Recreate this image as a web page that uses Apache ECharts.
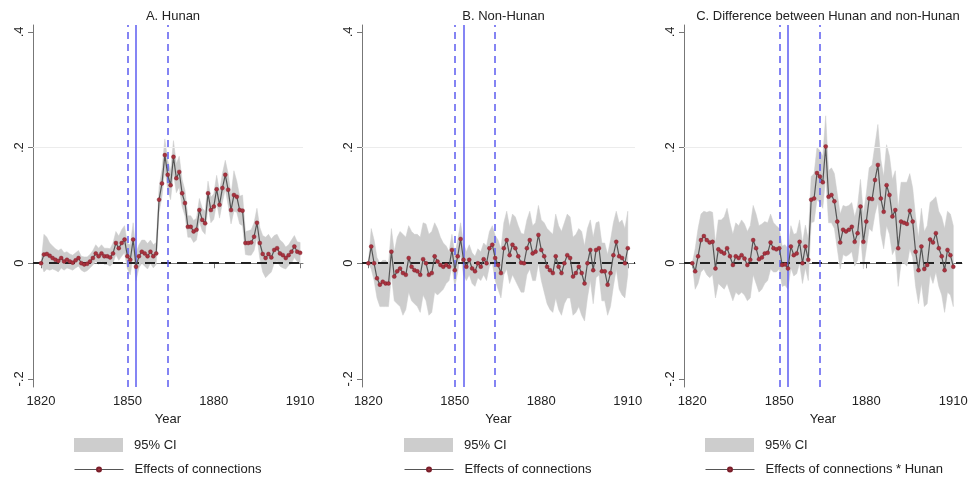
<!DOCTYPE html>
<html>
<head>
<meta charset="utf-8">
<script src="https://cdn.jsdelivr.net/npm/echarts@6/dist/echarts.min.js"></script>
<style>html,body{margin:0;padding:0;background:#fff}#chart{width:973px;height:480px}</style>
</head>
<body>
<div id="chart"></div>
<script>
const years = [1820,1821,1822,1823,1824,1825,1826,1827,1828,1829,1830,1831,1832,1833,1834,1835,1836,1837,1838,1839,1840,1841,1842,1843,1844,1845,1846,1847,1848,1849,1850,1851,1852,1853,1854,1855,1856,1857,1858,1859,1860,1861,1862,1863,1864,1865,1866,1867,1868,1869,1870,1871,1872,1873,1874,1875,1876,1877,1878,1879,1880,1881,1882,1883,1884,1885,1886,1887,1888,1889,1890,1891,1892,1893,1894,1895,1896,1897,1898,1899,1900,1901,1902,1903,1904,1905,1906,1907,1908,1909,1910];
const xTicks = [1820, 1850, 1880, 1910];
const yTicks = [-0.2, 0, 0.2, 0.4];
const eventDashed = [1850, 1864];
const eventSolid = [1853];

// Panel A: Hunan
const estA = [0,0.015,0.016,0.013,0.009,0.006,0.004,0.009,0.003,0.006,0.003,0.001,0.005,0.009,0,-0.002,-0.001,0.003,0.009,0.017,0.012,0.017,0.012,0.012,0.01,0.017,0.035,0.026,0.035,0.041,0.012,0.006,0.041,-0.006,0.012,0.02,0.017,0.012,0.02,0.012,0.017,0.11,0.138,0.187,0.153,0.135,0.184,0.147,0.158,0.121,0.104,0.063,0.063,0.055,0.058,0.092,0.075,0.069,0.121,0.092,0.098,0.128,0.101,0.13,0.153,0.127,0.092,0.118,0.115,0.092,0.091,0.035,0.035,0.036,0.046,0.07,0.035,0.016,0.009,0.016,0.01,0.023,0.026,0.017,0.014,0.009,0.014,0.02,0.029,0.02,0.018];
const loA = [0,-0.015,-0.01,-0.012,-0.01,-0.012,-0.015,-0.008,-0.012,-0.008,-0.01,-0.012,-0.008,-0.005,-0.012,-0.015,-0.013,-0.008,-0.003,0.003,-0.002,0.003,-0.002,-0.002,-0.005,0,0.015,0.005,0.012,0.018,-0.01,-0.02,0.012,-0.03,-0.008,0,-0.005,-0.01,0,-0.008,-0.002,0.088,0.115,0.16,0.128,0.11,0.155,0.122,0.132,0.098,0.082,0.045,0.045,0.036,0.04,0.072,0.056,0.05,0.1,0.07,0.076,0.105,0.078,0.105,0.128,0.1,0.068,0.09,0.088,0.068,0.065,0.015,0.014,0.014,0.022,0.045,0.008,-0.015,-0.025,-0.02,-0.015,0,0.004,-0.005,-0.008,-0.01,-0.004,0,0.01,0.003,0];
const hiA = [0,0.05,0.045,0.035,0.03,0.025,0.022,0.025,0.018,0.02,0.016,0.014,0.018,0.022,0.012,0.011,0.011,0.015,0.022,0.032,0.026,0.032,0.026,0.026,0.025,0.035,0.055,0.047,0.058,0.065,0.034,0.032,0.07,0.018,0.032,0.04,0.04,0.034,0.04,0.032,0.036,0.132,0.162,0.215,0.178,0.16,0.212,0.172,0.185,0.145,0.126,0.082,0.082,0.074,0.078,0.112,0.095,0.09,0.142,0.114,0.12,0.152,0.124,0.155,0.178,0.155,0.118,0.16,0.142,0.116,0.118,0.055,0.056,0.058,0.07,0.095,0.062,0.048,0.045,0.05,0.042,0.048,0.05,0.04,0.036,0.028,0.032,0.04,0.048,0.037,0.036];

// Panel B: Non-Hunan
const estB = [0,0.029,0,-0.026,-0.037,-0.032,-0.035,-0.035,0.02,-0.023,-0.014,-0.009,-0.017,-0.02,0.009,-0.006,-0.012,-0.014,-0.02,0.007,0,-0.02,-0.017,0.012,0.003,-0.003,-0.006,-0.003,-0.006,0.023,-0.012,0.012,0.042,0.006,-0.006,0.006,-0.009,-0.014,0,-0.006,0.007,0,0.026,0.032,0.009,-0.003,-0.017,0.026,0.04,0.014,0.032,0.026,0.012,0.001,0,0.026,0.04,0.017,0.02,0.049,0.023,0.012,-0.006,-0.012,-0.017,0.012,-0.006,-0.017,0,0.014,0.009,-0.023,-0.017,-0.006,-0.017,-0.035,0,0.023,-0.012,0.023,0.026,-0.014,-0.014,-0.037,-0.017,0.014,0.037,0.012,0.009,0,0.026];
const loB = [0,-0.01,-0.03,-0.06,-0.075,-0.075,-0.075,-0.075,-0.02,-0.065,-0.07,-0.075,-0.09,-0.08,-0.05,-0.065,-0.07,-0.075,-0.085,-0.055,-0.065,-0.09,-0.085,-0.05,-0.055,-0.05,-0.045,-0.035,-0.03,-0.005,-0.04,-0.015,0.015,-0.02,-0.03,-0.02,-0.035,-0.04,-0.025,-0.03,-0.02,-0.03,-0.005,0,-0.03,-0.045,-0.06,-0.02,-0.01,-0.035,-0.02,-0.03,-0.04,-0.05,-0.05,-0.02,-0.01,-0.03,-0.03,0,-0.03,-0.05,-0.07,-0.08,-0.085,-0.06,-0.08,-0.09,-0.07,-0.06,-0.06,-0.09,-0.085,-0.075,-0.09,-0.1,-0.06,-0.03,-0.07,-0.025,-0.02,-0.065,-0.065,-0.09,-0.075,-0.04,-0.01,-0.045,-0.055,-0.06,-0.02];
const hiB = [0,0.06,0.04,0.01,0,0.005,0.005,0,0.06,0.02,0.045,0.055,0.05,0.045,0.065,0.055,0.05,0.05,0.045,0.07,0.068,0.05,0.055,0.07,0.06,0.045,0.035,0.03,0.02,0.05,0.015,0.04,0.07,0.035,0.02,0.032,0.018,0.012,0.025,0.02,0.035,0.03,0.055,0.065,0.048,0.04,0.025,0.07,0.09,0.063,0.085,0.08,0.065,0.052,0.05,0.075,0.09,0.065,0.07,0.1,0.075,0.07,0.06,0.055,0.05,0.085,0.065,0.055,0.07,0.085,0.08,0.045,0.05,0.06,0.055,0.03,0.06,0.075,0.045,0.07,0.072,0.035,0.035,0.015,0.04,0.07,0.09,0.07,0.075,0.06,0.09];

// Panel C: Difference
const estC = [0,-0.014,0.012,0.04,0.047,0.04,0.036,0.037,-0.009,0.024,0.02,0.017,0.026,0.012,-0.003,0.012,0.009,0.014,0.008,-0.003,0.006,0.04,0.026,0.007,0.01,0.017,0.018,0.036,0.026,0.024,0.026,-0.003,-0.002,-0.009,0.029,0.014,0.017,0.037,0,0.029,0.006,0.11,0.112,0.156,0.15,0.14,0.202,0.115,0.118,0.107,0.072,0.036,0.058,0.055,0.058,0.063,0.037,0.052,0.098,0.037,0.072,0.112,0.111,0.144,0.17,0.112,0.089,0.135,0.118,0.081,0.092,0.026,0.072,0.07,0.068,0.091,0.072,0.02,-0.012,0.029,-0.01,-0.003,0.041,0.036,0.052,0.026,0.012,-0.012,0.023,0.014,-0.006];
const loC = [0,-0.045,-0.035,-0.015,-0.01,-0.02,-0.025,-0.02,-0.06,-0.035,-0.04,-0.045,-0.035,-0.05,-0.065,-0.05,-0.055,-0.05,-0.055,-0.065,-0.06,-0.02,-0.035,-0.05,-0.045,-0.035,-0.03,-0.01,-0.015,-0.015,-0.01,-0.04,-0.038,-0.045,-0.008,-0.022,-0.018,0,-0.035,-0.008,-0.03,0.07,0.072,0.11,0.105,0.095,0.15,0.07,0.07,0.06,0.025,-0.01,0.015,0.012,0.015,0.02,-0.005,0.005,0.05,-0.01,0.025,0.06,0.055,0.085,0.105,0.05,0.025,0.065,0.05,0.015,0.025,-0.04,0,0,-0.005,0.025,0.01,-0.04,-0.07,-0.035,-0.075,-0.07,-0.02,-0.035,-0.015,-0.04,-0.055,-0.085,-0.05,-0.055,-0.075];
const hiC = [0,0.025,0.06,0.085,0.09,0.088,0.09,0.088,0.035,0.075,0.075,0.08,0.095,0.07,0.05,0.07,0.065,0.075,0.068,0.055,0.065,0.1,0.085,0.065,0.068,0.072,0.07,0.085,0.07,0.065,0.06,0.03,0.032,0.025,0.065,0.05,0.052,0.075,0.035,0.066,0.042,0.15,0.155,0.2,0.195,0.185,0.255,0.16,0.165,0.155,0.12,0.085,0.1,0.098,0.1,0.105,0.08,0.1,0.145,0.085,0.12,0.165,0.17,0.205,0.24,0.18,0.15,0.205,0.185,0.145,0.16,0.095,0.14,0.14,0.14,0.155,0.13,0.08,0.045,0.095,0.055,0.065,0.105,0.11,0.115,0.09,0.08,0.06,0.09,0.085,0.065];

const titles = ['A. Hunan', 'B. Non-Hunan', 'C. Difference between Hunan and non-Hunan'];
const lineNames = ['Effects of connections', 'Effects of connections', 'Effects of connections * Hunan'];
const ciName = '95% CI';

const panels = [
  {est: estA, lo: loA, hi: hiA, left: 33, width: 270, xmin: 1817.2, xmax: 1911, legendLeft: 74},
  {est: estB, lo: loB, hi: hiB, left: 362, width: 273, xmin: 1817.8, xmax: 1912.5, legendLeft: 404},
  {est: estC, lo: loC, hi: hiC, left: 684, width: 278, xmin: 1817.15, xmax: 1913, legendLeft: 705}
];

const FONT = '"Liberation Sans", Arial, sans-serif';
const CI_COLOR = '#cdcdcd';
const grids = [], xAxes = [], yAxes = [], series = [], titleOpts = [], legends = [];
const yFmt = v => v === 0 ? '0' : (v < 0 ? '-' : '') + String(Math.abs(+v.toFixed(2))).replace(/^0/, '');

panels.forEach((p, i) => {
  grids.push({left: p.left, top: 25, width: p.width, height: 362});
  xAxes.push({
    type: 'value', gridIndex: i, min: p.xmin, max: p.xmax,
    name: 'Year', nameLocation: 'middle', nameGap: 25,
    nameTextStyle: {fontFamily: FONT, fontSize: 13, color: '#222'},
    axisLine: {show: true, lineStyle: {color: '#777', width: 1}},
    axisTick: {show: true, length: 5, lineStyle: {color: '#777'}, customValues: xTicks},
    axisLabel: {fontFamily: FONT, fontSize: 13, color: '#222', margin: 8, customValues: xTicks, formatter: v => String(v)},
    splitLine: {show: false}
  });
  yAxes.push({
    type: 'value', gridIndex: i, min: -0.214, max: 0.412,
    axisLine: {show: true, lineStyle: {color: '#777', width: 1}},
    axisTick: {show: true, length: 5, lineStyle: {color: '#777'}, customValues: yTicks},
    axisLabel: {fontFamily: FONT, fontSize: 13, color: '#222', margin: 7, rotate: 90, customValues: yTicks, formatter: yFmt},
    splitLine: {show: false}
  });
  const bandData = years.map((y, k) => [y, p.lo[k], p.hi[k]]);
  const estData = years.map((y, k) => [y, p.est[k]]);
  const lo = p.lo, hi = p.hi;
  series.push({
    name: ciName, type: 'custom', xAxisIndex: i, yAxisIndex: i, data: bandData,
    encode: {x: 0, y: [1, 2]}, silent: true, z: 1,
    itemStyle: {color: CI_COLOR},
    renderItem: function (params, api) {
      if (params.dataIndex !== 0) return null;
      const top = years.map((y, k) => api.coord([y, hi[k]]));
      const bot = years.map((y, k) => api.coord([y, lo[k]])).reverse();
      return {type: 'polygon', shape: {points: top.concat(bot)}, style: {fill: CI_COLOR, stroke: CI_COLOR, lineWidth: 0.5}};
    },
    markLine: {
      silent: true, symbol: ['none', 'none'], label: {show: false}, animation: false,
      data: [
        {yAxis: 0.2, lineStyle: {color: '#ececec', width: 1, type: 'solid'}},
        {yAxis: 0, lineStyle: {color: '#222', width: 2, type: [10, 6]}},
        ...eventDashed.map(v => ({xAxis: v, lineStyle: {color: '#5c5cf0', width: 1.5, type: [7, 5]}})),
        ...eventSolid.map(v => ({xAxis: v, lineStyle: {color: '#5c5cf0', width: 1.5, type: 'solid'}}))
      ]
    }
  });
  series.push({
    name: lineNames[i], type: 'line', xAxisIndex: i, yAxisIndex: i, data: estData,
    symbol: 'circle', symbolSize: 4, showSymbol: true,
    lineStyle: {color: '#555', width: 1.2},
    itemStyle: {color: '#a8323e', borderColor: '#7a1f2a', borderWidth: 0.4},
    z: 10
  });
  const cx = p.left + p.width / 2;
  titleOpts.push({text: titles[i], left: cx, top: 5, textAlign: 'center',
    textStyle: {fontFamily: FONT, fontSize: 13, fontWeight: 'normal', color: '#222'}});
  legends.push({
    left: p.legendLeft, top: 438, orient: 'vertical', padding: 0, itemWidth: 49, itemHeight: 14, selectedMode: false,
    textStyle: {fontFamily: FONT, fontSize: 13, color: '#222', padding: [0, 0, 0, 6]},
    data: [{name: ciName, icon: 'rect', itemStyle: {color: CI_COLOR}}]
  });
  legends.push({
    left: p.legendLeft, top: 463, orient: 'vertical', padding: 0, itemWidth: 49, itemHeight: 5, selectedMode: false,
    textStyle: {fontFamily: FONT, fontSize: 13, color: '#222', padding: [0, 0, 0, 6]},
    data: [{name: lineNames[i], lineStyle: {width: 1}}]
  });
});

const chart = echarts.init(document.getElementById('chart'), null, {renderer: 'canvas'});
chart.setOption({
  animation: false,
  backgroundColor: '#fff',
  title: titleOpts,
  legend: legends,
  grid: grids,
  xAxis: xAxes,
  yAxis: yAxes,
  series: series
});
</script>
</body>
</html>
